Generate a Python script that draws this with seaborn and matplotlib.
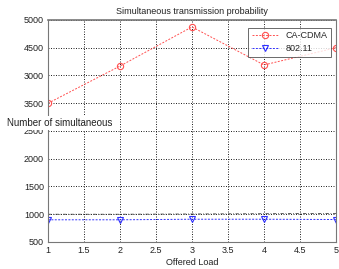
import numpy as np
import pandas as pd
import seaborn as sns
import matplotlib
matplotlib.use("Agg")
import matplotlib.pyplot as plt

# data
load = [1, 2, 3, 4, 5]
ca_cdma = [3500, 4170, 4875, 4190, 4500]
ieee = [900, 900, 910, 910, 905]
extra = [1000, 1000, 1005, 1010, 1015]

yticks = [500, 1000, 1500, 2000, 2500, 3500, 4000, 4500, 5000]
ytick_labels = ["500", "1000", "1500", "2000", "2500", "3500", "3000", "4500", "5000"]
xticks = [1, 1.5, 2, 2.5, 3, 3.5, 4, 4.5, 5]

df = pd.DataFrame({"load": load * 2,
                   "value": ca_cdma + ieee,
                   "series": ["CA-CDMA"] * 5 + ["802.11"] * 5})

sns.set_style("white")
plt.rcParams["font.family"] = ["Liberation Sans", "DejaVu Sans"]


# the axis skips the 3000 band, squeeze it
def fwd(v):
    v = np.asarray(v, dtype=float)
    return np.where(v <= 2500, v, np.where(v <= 3500, 2500 + (v - 2500) * 0.5, v - 500))


def inv(p):
    p = np.asarray(p, dtype=float)
    return np.where(p <= 2500, p, np.where(p <= 3000, 2500 + (p - 2500) * 2, p + 500))


fig = plt.figure(figsize=(3.39, 2.69), dpi=100)
ax = fig.add_axes([0.1416, 0.1004, 0.8495, 0.8253])
ax.set_yscale("function", functions=(fwd, inv))

sns.lineplot(data=df, x="load", y="value", hue="series", style="series",
             palette={"CA-CDMA": "#ff5050", "802.11": "#3030ff"},
             markers={"CA-CDMA": "o", "802.11": "v"},
             dashes={"CA-CDMA": (2, 1.5), "802.11": (2, 1.5)},
             linewidth=0.7, markersize=4.5, markerfacecolor="none",
             markeredgewidth=0.8, ax=ax)
for ln in ax.lines:
    ln.set_markerfacecolor("none")
    ln.set_markeredgecolor(ln.get_color())

sns.lineplot(x=load, y=extra, color="#444444", linewidth=0.6,
             linestyle=(0, (4, 2, 1, 2)), ax=ax, legend=False)

ax.set_xlim(1, 5)
ax.set_ylim(500, 5000)
ax.set_xticks(xticks)
ax.set_xticklabels(["1", "1.5", "2", "2.5", "3", "3.5", "4", "4.5", "5"])
ax.set_yticks(yticks)
ax.set_yticklabels(ytick_labels)
ax.minorticks_off()
ax.tick_params(labelsize=6.5, length=2, width=0.5, direction="in", pad=3, colors="#222222")
ax.grid(True, color="black", linestyle=(0, (1.2, 1.8)), linewidth=0.6)
for s in ax.spines.values():
    s.set_color("#777777")
    s.set_linewidth(0.8)
ax.spines["top"].set_linewidth(1.2)

ax.set_title("Simultaneous transmission probability", fontsize=6.5, pad=4, color="#222222")
ax.set_xlabel("Offered Load", fontsize=6.5, labelpad=2, color="#222222")
ax.set_ylabel("")
fig.text(0.022, 0.543, "Number of simultaneous", fontsize=7, color="#222222",
         va="center", ha="left",
         bbox=dict(facecolor="white", edgecolor="none", pad=1.5))

leg = ax.legend(title=None, loc="upper right", bbox_to_anchor=(1.0, 0.985),
                fontsize=6.5, frameon=True, fancybox=False, handlelength=3,
                borderpad=0.4, labelspacing=0.4)
leg.get_frame().set_edgecolor("#444444")
leg.get_frame().set_linewidth(0.7)

fig.savefig("out.png", dpi=100)
